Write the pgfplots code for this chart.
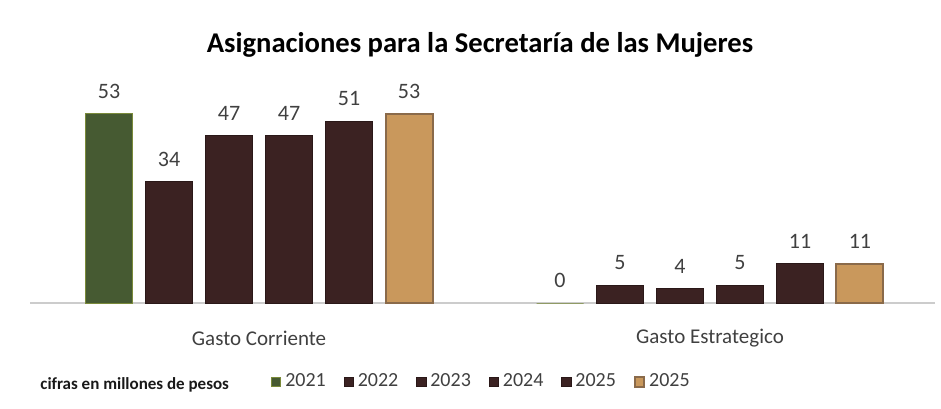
\documentclass[border=0pt]{standalone}
\usepackage{pgfplots}
\pgfplotsset{compat=1.18}
\usepackage{fontspec}
\setmainfont{Carlito}
\setsansfont{Carlito}
\definecolor{grn}{HTML}{465A32}
\definecolor{grnE}{HTML}{7A8A3A}
\definecolor{mar}{HTML}{3B2222}
\definecolor{marE}{HTML}{2A1818}
\definecolor{tan}{HTML}{C9985C}
\definecolor{tanE}{HTML}{8A6A4A}
\definecolor{txt}{HTML}{404040}
\begin{document}
\begin{tikzpicture}
\useasboundingbox (0,0) rectangle (470.5pt,204pt);
\begin{axis}[
  at={(15pt,52.5pt)}, anchor=south west,
  scale only axis, width=452.5pt, height=111.5pt,
  xmin=-0.508, xmax=1.499, ymin=0, ymax=62.5,
  /pgf/number format/assume math mode=true,
  axis x line=bottom, axis y line=none,
  x axis line style={-, draw=gray!40, line width=0.6pt},
  xtick={0,1}, xticklabels={Gasto Corriente, Gasto Estrategico},
  major tick length=0pt,
  xticklabel style={anchor=center, yshift=-17.5pt, font=\fontsize{10.5}{12}\selectfont, text=txt},
  ytick=\empty,
  ybar, bar width=0.1042,
  nodes near coords,
  every node near coord/.append style={font=\fontsize{11}{13}\selectfont, text=txt, yshift=4pt},
  legend columns=6,
  legend style={at={(0.5,-0.354)}, anchor=center, draw=none, fill=none,
    font=\fontsize{10}{12}\selectfont, text=txt,
    /tikz/every even column/.append style={column sep=7pt}},
  legend image code/.code={\fill[#1] (0pt,-2.3pt) rectangle (4.6pt,2.3pt);},
]
\addplot[fill=grn, draw=grnE, bar shift=-0.3326] coordinates {(0,53) (1,0)};
\addplot[fill=mar, draw=marE, bar shift=-0.1996] coordinates {(0,34) (1,5)};
\addplot[fill=mar, draw=marE, bar shift=-0.0665] coordinates {(0,47) (1,4)};
\addplot[fill=mar, draw=marE, bar shift=0.0665] coordinates {(0,47) (1,5)};
\addplot[fill=mar, draw=marE, bar shift=0.1996] coordinates {(0,51) (1,11)};
\addplot[fill=tan, draw=tanE, line width=1pt, bar shift=0.3326] coordinates {(0,53) (1,11)};
\legend{2021,2022,2023,2024,2025,2025}
\end{axis}
\node[font=\bfseries\fontsize{14.3}{17}\selectfont, text=black] at (240pt,181.5pt) {Asignaciones para la Secretaría de las Mujeres};
\node[anchor=west, inner sep=0pt, font=\bfseries\fontsize{8.5}{10}\selectfont, text=black!90] at (20pt,11.5pt) {cifras en millones de pesos};
\end{tikzpicture}
\end{document}
